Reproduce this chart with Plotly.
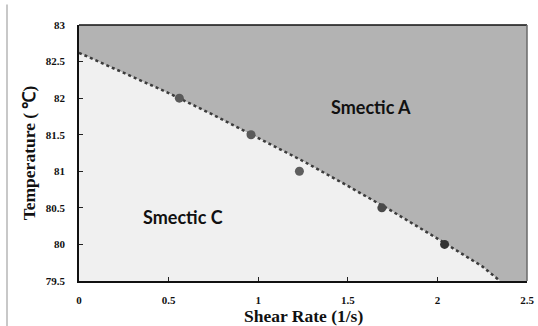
import plotly.graph_objects as go

# Measured transition points (shear rate vs. temperature)
shear_rate = [0.56, 0.96, 1.23, 1.69, 2.04]
temperature = [82.0, 81.5, 81.0, 80.5, 80.0]
point_colors = ["#5a5a5a", "#5a5a5a", "#5e5e5e", "#4a4a4a", "#333333"]

# Phase boundary (trend curve) separating Smectic A and Smectic C
boundary_x = [0.0, 0.25, 0.5, 0.75, 1.0, 1.25, 1.5, 1.75, 2.0, 2.25, 2.35]
boundary_y = [82.62, 82.35, 82.07, 81.77, 81.46, 81.14, 80.80, 80.45, 80.08, 79.70, 79.5]

x_ticks = [0, 0.5, 1, 1.5, 2, 2.5]
y_ticks = [79.5, 80, 80.5, 81, 81.5, 82, 82.5, 83]

serif = "Liberation Serif"
sans = "Lato"

fig = go.Figure()

# Smectic C region (below the boundary)
fig.add_trace(go.Scatter(
    x=boundary_x, y=boundary_y, mode="lines",
    line=dict(color="rgba(0,0,0,0)", width=0),
    fill="tozeroy", fillcolor="#f0f0f0", hoverinfo="skip", showlegend=False,
))

# Dotted boundary curve
fig.add_trace(go.Scatter(
    x=boundary_x, y=boundary_y, mode="lines",
    line=dict(color="#3c3c3c", width=2.5, dash="dot"),
    showlegend=False,
))

# Data points
fig.add_trace(go.Scatter(
    x=shear_rate, y=temperature, mode="markers",
    marker=dict(size=9, color=point_colors, line=dict(width=0)),
    showlegend=False,
))

fig.add_annotation(x=1.63, y=81.88, text="<b>Smectic A</b>", showarrow=False,
                   font=dict(family=sans, size=18, color="#111111"))
fig.add_annotation(x=0.58, y=80.38, text="<b>Smectic C</b>", showarrow=False,
                   font=dict(family=sans, size=18, color="#111111"))

# X-axis title placed below the tick labels
fig.add_annotation(xref="paper", yref="paper", x=0.5, y=-0.135, yanchor="middle",
                   text="<b>Shear Rate (1/s)</b>", showarrow=False,
                   font=dict(family=serif, size=17.5, color="#111111"))

# Top and right edges of the plot frame, and the thin gray rule at the far left
fig.add_shape(type="line", xref="paper", yref="paper", x0=0, x1=1, y0=1, y1=1,
              line=dict(color="#111111", width=1.5))
fig.add_shape(type="line", xref="paper", yref="paper", x0=1, x1=1, y0=0, y1=1,
              line=dict(color="#6a6a6a", width=1.5))
fig.add_shape(type="line", xref="paper", yref="paper", x0=-0.1607, x1=-0.1607,
              y0=-0.18, y1=1.08, line=dict(color="#c8c8c8", width=2))

fig.update_layout(
    width=538, height=326,
    margin=dict(l=79, r=11, t=25, b=45),
    paper_bgcolor="white",
    plot_bgcolor="#b3b3b3",
    xaxis=dict(
        range=[0, 2.5], tickvals=x_ticks, automargin=False,
        ticktext=[f"<b>{v:g}</b>" for v in x_ticks],
        tickfont=dict(family=serif, size=11, color="#111111"),
        ticks="inside", ticklen=4, tickcolor="#222222",
        showline=True, linecolor="#111111", linewidth=1.5,
        showgrid=False, zeroline=False, ticklabelstandoff=8,
    ),
    yaxis=dict(
        range=[79.5, 83], tickvals=y_ticks, automargin=False,
        ticktext=[f"<b>{v:g}</b>" for v in y_ticks],
        tickfont=dict(family=serif, size=11, color="#111111"),
        ticks="inside", ticklen=4, tickcolor="#222222",
        showline=True, linecolor="#111111", linewidth=1.5,
        showgrid=False, zeroline=False, ticklabelstandoff=10,
        title=dict(text="<b>Temperature ( ℃)</b>",
                   font=dict(family=serif, size=17.5, color="#111111"), standoff=6),
    ),
)

fig.write_html("out.html")
